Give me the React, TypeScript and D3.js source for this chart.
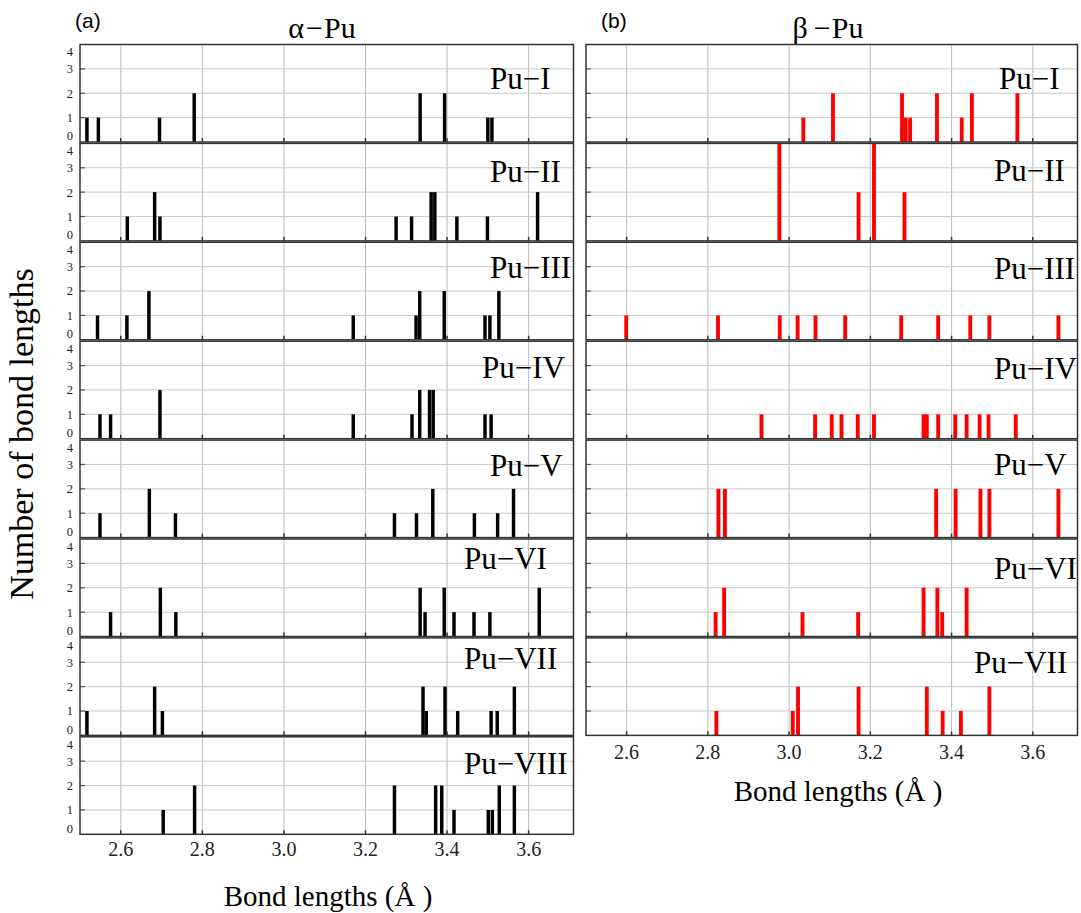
import React from "react";
import * as d3 from "d3";

// ---------- data ----------
const xTicks = [2.6, 2.8, 3.0, 3.2, 3.4, 3.6];
const yTicks = [0, 1, 2, 3, 4];

const alphaLabels = ["Pu\u2212I", "Pu\u2212II", "Pu\u2212III", "Pu\u2212IV", "Pu\u2212V", "Pu\u2212VI", "Pu\u2212VII", "Pu\u2212VIII"];
const betaLabels = ["Pu\u2212I", "Pu\u2212II", "Pu\u2212III", "Pu\u2212IV", "Pu\u2212V", "Pu\u2212VI", "Pu\u2212VII"];

// [bond length (Å), count]
const alphaPuI: [number, number][] = [[2.517, 1], [2.545, 1], [2.695, 1], [2.780, 2], [3.334, 2], [3.394, 2], [3.500, 1], [3.510, 1]];
const alphaPuII: [number, number][] = [[2.616, 1], [2.683, 2], [2.696, 1], [3.275, 1], [3.313, 1], [3.361, 2], [3.370, 2], [3.424, 1], [3.499, 1], [3.622, 2]];
const alphaPuIII: [number, number][] = [[2.543, 1], [2.615, 1], [2.669, 2], [3.170, 1], [3.324, 1], [3.333, 2], [3.393, 2], [3.493, 1], [3.505, 1], [3.527, 2]];
const alphaPuIV: [number, number][] = [[2.549, 1], [2.575, 1], [2.696, 2], [3.170, 1], [3.314, 1], [3.333, 2], [3.357, 2], [3.366, 2], [3.493, 1], [3.508, 1]];
const alphaPuV: [number, number][] = [[2.549, 1], [2.670, 2], [2.734, 1], [3.271, 1], [3.325, 1], [3.365, 2], [3.467, 1], [3.524, 1], [3.563, 2]];
const alphaPuVI: [number, number][] = [[2.575, 1], [2.697, 2], [2.735, 1], [3.334, 2], [3.346, 1], [3.393, 2], [3.417, 1], [3.466, 1], [3.505, 1], [3.626, 2]];
const alphaPuVII: [number, number][] = [[2.517, 1], [2.683, 2], [2.702, 1], [3.341, 2], [3.349, 1], [3.395, 2], [3.426, 1], [3.508, 1], [3.523, 1], [3.565, 2]];
const alphaPuVIII: [number, number][] = [[2.704, 1], [2.781, 2], [3.271, 2], [3.372, 2], [3.387, 2], [3.417, 1], [3.501, 1], [3.511, 1], [3.528, 2], [3.565, 2]];

const betaPuI: [number, number][] = [[3.035, 1], [3.108, 2], [3.278, 2], [3.287, 1], [3.298, 1], [3.364, 2], [3.425, 1], [3.450, 2], [3.562, 2]];
const betaPuII: [number, number][] = [[2.976, 4], [3.171, 2], [3.209, 4], [3.284, 2]];
const betaPuIII: [number, number][] = [[2.599, 1], [2.825, 1], [2.977, 1], [3.021, 1], [3.065, 1], [3.138, 1], [3.276, 1], [3.367, 1], [3.446, 1], [3.493, 1], [3.663, 1]];
const betaPuIV: [number, number][] = [[2.932, 1], [3.064, 1], [3.105, 1], [3.129, 1], [3.169, 1], [3.209, 1], [3.331, 1], [3.339, 1], [3.367, 1], [3.409, 1], [3.437, 1], [3.469, 1], [3.491, 1], [3.558, 1]];
const betaPuV: [number, number][] = [[2.826, 2], [2.842, 2], [3.362, 2], [3.410, 2], [3.471, 2], [3.493, 2], [3.663, 2]];
const betaPuVI: [number, number][] = [[2.819, 1], [2.840, 2], [3.033, 1], [3.170, 1], [3.331, 2], [3.365, 2], [3.377, 1], [3.437, 2]];
const betaPuVII: [number, number][] = [[2.821, 1], [3.009, 1], [3.022, 2], [3.171, 2], [3.339, 2], [3.378, 1], [3.423, 1], [3.493, 2]];

const alphaData = [alphaPuI, alphaPuII, alphaPuIII, alphaPuIV, alphaPuV, alphaPuVI, alphaPuVII, alphaPuVIII];
const betaData = [betaPuI, betaPuII, betaPuIII, betaPuIV, betaPuV, betaPuVI, betaPuVII];

// ---------- layout ----------
const W = 1081;
const H = 913;
const TOP0 = 44.5;
const PITCH = 98.9;
const PH = 97.5;
const SERIF = "Liberation Serif";
const SANS = "Liberation Sans";

const alphaLabelX = [490, 490, 490, 482, 490, 464, 464, 464];
const alphaLabelDy = [44, 39, 36, 37, 36, 30, 31, 37];
const betaLabelX = [999, 994, 994, 994, 994, 994, 974];
const betaLabelDy = [44, 38, 37, 38, 35, 40, 35];

function Panel({ x0, x1, top, bars, color, barW, label, labelX, labelDy, showYLabels }: any) {
  const x = d3.scaleLinear().domain([2.5, 3.71]).range([x0, x1]);
  const y = d3.scaleLinear().domain([0, 4]).range([top + PH, top]);
  return (
    <g>
      <rect x={x0} y={top} width={x1 - x0} height={PH} fill="#fff" />
      {xTicks.map((t) => (
        <line key={"gx" + t} x1={x(t)} x2={x(t)} y1={top} y2={top + PH} stroke="#bdbdbd" strokeWidth={1} />
      ))}
      {[1, 2, 3].map((t) => (
        <line key={"gy" + t} x1={x0} x2={x1} y1={y(t)} y2={y(t)} stroke="#c8c8c8" strokeWidth={1} />
      ))}
      {bars.map(([v, c]: [number, number], i: number) => (
        <rect key={"b" + i} x={x(v - barW / 2)} width={x(v + barW / 2) - x(v - barW / 2)} y={y(c)} height={y(0) - y(c)} fill={color} />
      ))}
      {xTicks.map((t) => (
        <line key={"tx" + t} x1={x(t)} x2={x(t)} y1={top + PH} y2={top + PH - 4} stroke="#333" strokeWidth={1.5} />
      ))}
      {[1, 2, 3].map((t) => (
        <line key={"ty" + t} x1={x0} x2={x0 + 5} y1={y(t)} y2={y(t)} stroke="#555" strokeWidth={1.2} />
      ))}
      <rect x={x0} y={top} width={x1 - x0} height={PH} fill="none" stroke="#333" strokeWidth={1.5} />
      {showYLabels &&
        yTicks.map((t) => {
          let cy = y(t);
          if (t === 4) cy = top + 7.5;
          if (t === 0) cy = top + PH - 6;
          return (
            <text key={"yl" + t} x={x0 - 7} y={cy} dy="0.35em" textAnchor="end" fontFamily={SERIF} fontSize={12.5} fill="#222">
              {t}
            </text>
          );
        })}
      <text x={labelX} y={top + labelDy} fontFamily={SERIF} fontSize={31} fill="#000">
        {label}
      </text>
    </g>
  );
}

export default function App() {
  const LX0 = 80, LX1 = 573.5, RX0 = 586, RX1 = 1077.5;
  const xl = d3.scaleLinear().domain([2.5, 3.71]).range([LX0, LX1]);
  const xr = d3.scaleLinear().domain([2.5, 3.71]).range([RX0, RX1]);
  const fmt = d3.format(".1f");
  return (
    <svg width={W} height={H} style={{ position: "absolute", left: 0, top: 0, background: "#fff" }}>
      <rect x={0} y={0} width={W} height={H} fill="#fff" />
      <text x={75} y={28} fontFamily={SANS} fontSize={21} fill="#000">(a)</text>
      <text x={601} y={28} fontFamily={SANS} fontSize={21} fill="#000">(b)</text>
      <text x={322} y={38} textAnchor="middle" fontFamily={SERIF} fontSize={30} fill="#000">
        {"\u03b1"}<tspan dx={2}>{"\u2212"}</tspan><tspan dx={1}>Pu</tspan>
      </text>
      <text x={828} y={38} textAnchor="middle" fontFamily={SERIF} fontSize={30} fill="#000">
        {"\u03b2"}<tspan dx={6}>{"\u2212"}</tspan><tspan dx={1}>Pu</tspan>
      </text>

      {alphaData.map((bars, i) => (
        <Panel key={"a" + i} x0={LX0} x1={LX1} top={TOP0 + i * PITCH} bars={bars} color="#000" barW={0.0085}
          label={alphaLabels[i]} labelX={alphaLabelX[i]} labelDy={alphaLabelDy[i]} showYLabels={true} />
      ))}
      {betaData.map((bars, i) => (
        <Panel key={"b" + i} x0={RX0} x1={RX1} top={TOP0 + i * PITCH} bars={bars} color="#ff0000" barW={0.0095}
          label={betaLabels[i]} labelX={betaLabelX[i]} labelDy={betaLabelDy[i]} showYLabels={false} />
      ))}

      {xTicks.map((t) => (
        <text key={"xl" + t} x={xl(t)} y={856} textAnchor="middle" fontFamily={SERIF} fontSize={20} fill="#222">{fmt(t)}</text>
      ))}
      {xTicks.map((t) => (
        <text key={"xr" + t} x={xr(t)} y={759} textAnchor="middle" fontFamily={SERIF} fontSize={20} fill="#222">{fmt(t)}</text>
      ))}
      <text x={328} y={906} textAnchor="middle" fontFamily={SERIF} fontSize={29} fill="#000">Bond lengths (Å )</text>
      <text x={838} y={801} textAnchor="middle" fontFamily={SERIF} fontSize={29} fill="#000">Bond lengths (Å )</text>
      <text transform="translate(33,434) rotate(-90)" textAnchor="middle" fontFamily={SERIF} fontSize={34} fill="#000">Number of bond lengths</text>
    </svg>
  );
}
